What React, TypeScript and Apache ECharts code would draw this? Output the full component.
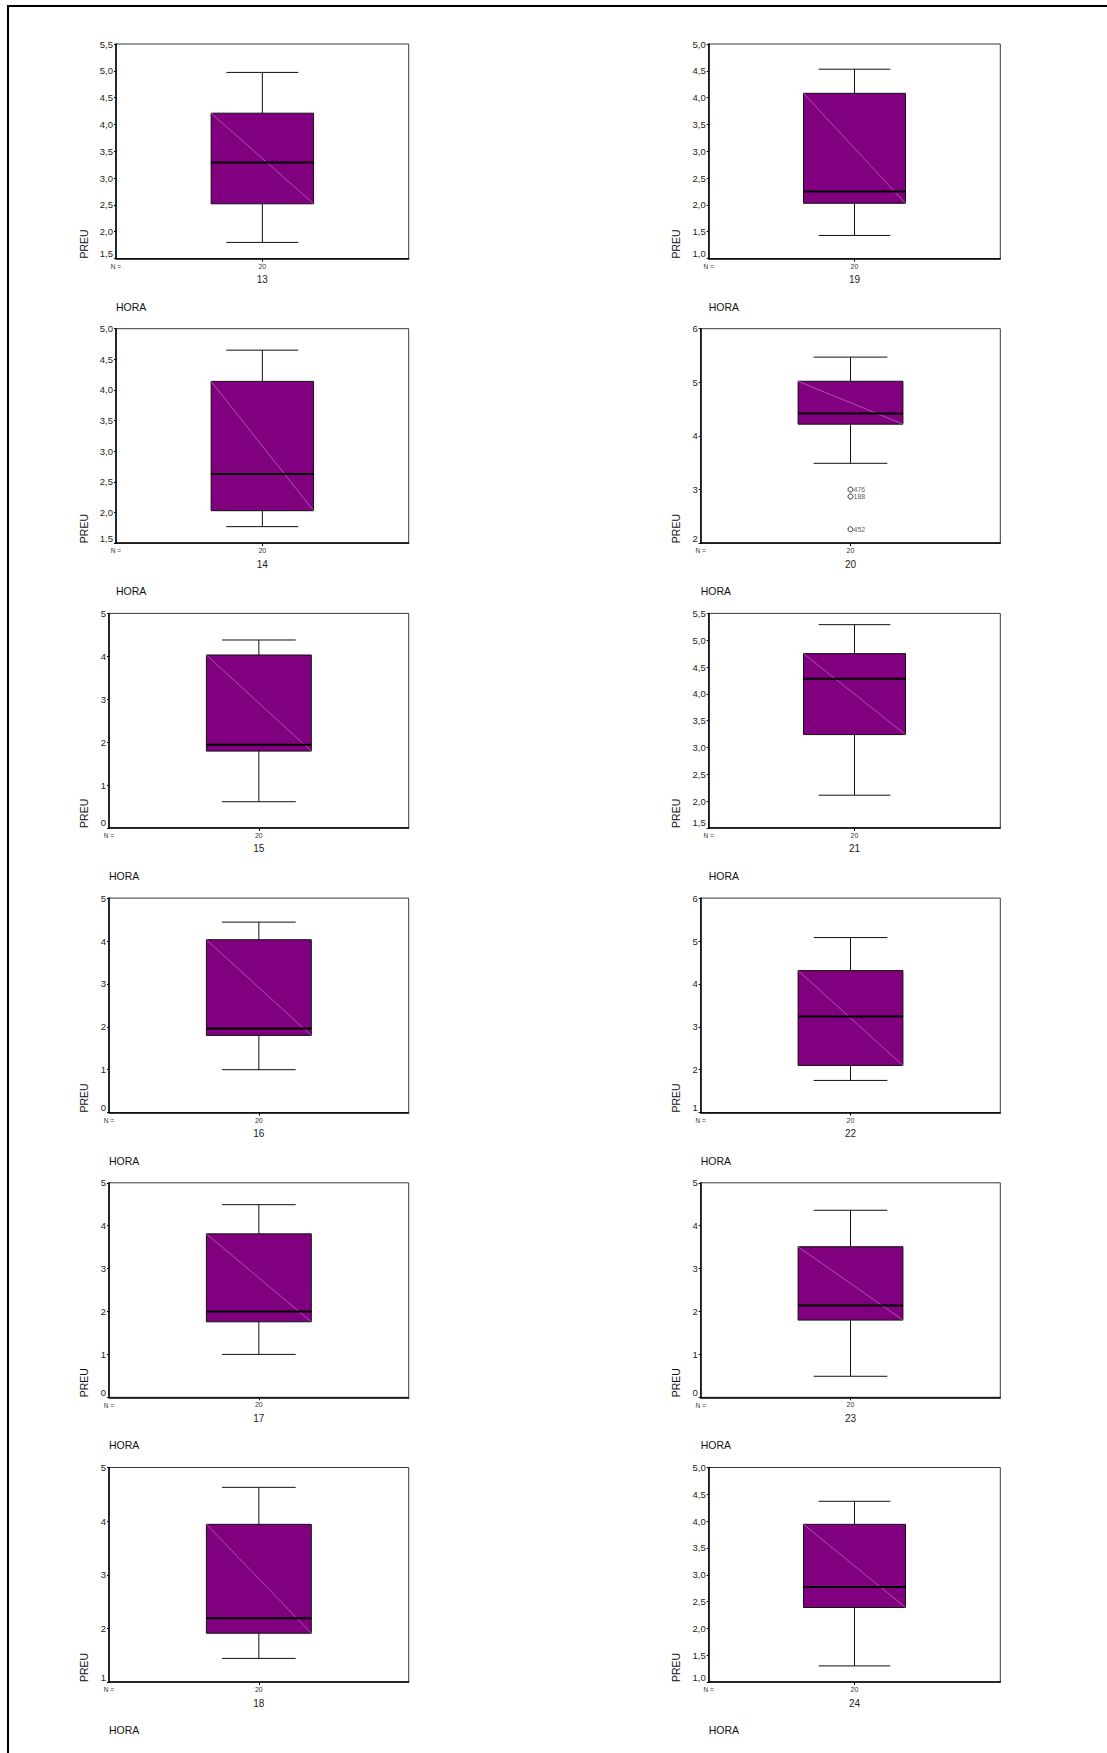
import React, { useEffect, useRef } from "react";
import * as echarts from "echarts";

// ---- data ----
const hours = ["13", "14", "15", "16", "17", "18", "19", "20", "21", "22", "23", "24"];
const nCounts = [20, 20, 20, 20, 20, 20, 20, 20, 20, 20, 20, 20];
const whiskerLow = [1.8, 1.77, 0.61, 1.0, 1.0, 1.44, 1.43, 3.49, 2.11, 1.75, 0.49, 1.3];
const quart1 = [2.52, 2.03, 1.79, 1.8, 1.76, 1.91, 2.03, 4.22, 3.24, 2.1, 1.8, 2.39];
const medians = [3.29, 2.63, 1.94, 1.96, 2.0, 2.19, 2.25, 4.42, 4.28, 3.24, 2.14, 2.77];
const quart3 = [4.21, 4.14, 4.03, 4.03, 3.81, 3.94, 4.08, 5.02, 4.75, 4.31, 3.51, 3.94];
const whiskerHigh = [4.97, 4.65, 4.38, 4.44, 4.49, 4.63, 4.53, 5.47, 5.29, 5.08, 4.36, 4.37];
const yMin = [1.5, 1.5, 0, 0, 0, 1, 1.0, 2, 1.5, 1, 0, 1.0];
const yMax = [5.5, 5.0, 5, 5, 5, 5, 5.0, 6, 5.5, 6, 5, 5.0];
const yStep = [0.5, 0.5, 1, 1, 1, 1, 0.5, 1, 0.5, 1, 1, 0.5];
const outlierHour = "20";
const outlierValues = [3.0, 2.87, 2.26];
const outlierIds = ["476", "188", "452"];
const yName = "PREU";
const xName = "HORA";

const FONT = "'Liberation Sans', Arial, Helvetica, sans-serif";

function buildOption() {
  const grids: any[] = [];
  const xAxes: any[] = [];
  const yAxes: any[] = [];
  const series: any[] = [];
  const graphic: any[] = [];

  // outer frame (only top and left edges visible)
  graphic.push({
    type: "line",
    shape: { x1: 7, y1: 6, x2: 1120, y2: 6 },
    style: { stroke: "#000", lineWidth: 2 },
  });
  graphic.push({
    type: "line",
    shape: { x1: 8, y1: 5, x2: 8, y2: 1770 },
    style: { stroke: "#000", lineWidth: 2 },
  });

  hours.forEach((h, i) => {
    const col = i < 6 ? 0 : 1;
    const row = i % 6;
    const dec = yStep[i] < 1;
    const right = col === 0 ? 408.7 : 1000.3;
    const left = col === 0 ? (dec ? 116 : 109) : dec ? 708.7 : 700.7;
    const top = 44 + row * 284.7;
    const height = 214.5;
    const bottom = top + height;

    grids.push({
      left,
      top,
      width: right - left,
      height,
      show: true,
      borderColor: "#3a3a3a",
      borderWidth: 1,
      backgroundColor: "transparent",
    });

    xAxes.push({
      type: "category",
      gridIndex: i,
      data: [h],
      boundaryGap: true,
      axisLine: { show: true, lineStyle: { color: "#000", width: 1.5 } },
      axisTick: { show: true, alignWithLabel: true, length: 3, lineStyle: { color: "#000" } },
      axisLabel: {
        margin: 2,
        formatter: (v: string) => `{n|${nCounts[i]}}\n{c|${v}}`,
        rich: {
          n: { fontSize: 7, lineHeight: 11, color: "#333", fontFamily: FONT },
          c: { fontSize: 10, lineHeight: 16, color: "#222", fontFamily: FONT },
        },
      },
      splitLine: { show: false },
    });

    yAxes.push({
      type: "value",
      gridIndex: i,
      min: yMin[i],
      max: yMax[i],
      interval: yStep[i],
      axisLine: { show: true, lineStyle: { color: "#000", width: 1.5 } },
      axisTick: { show: true, length: 2, lineStyle: { color: "#000" } },
      axisLabel: {
        margin: 3,
        fontSize: 9.5,
        color: "#222",
        fontFamily: FONT,
        verticalAlignMinLabel: "bottom",
        formatter: (v: number) => (dec ? v.toFixed(1).replace(".", ",") : String(Math.round(v))),
      },
      splitLine: { show: false },
    });

    series.push({
      type: "custom",
      xAxisIndex: i,
      yAxisIndex: i,
      encode: { x: 0, y: [1, 2, 3, 4, 5] },
      data: [[0, whiskerLow[i], quart1[i], medians[i], quart3[i], whiskerHigh[i]]],
      renderItem: (params: any, api: any) => {
        const x = api.value(0);
        const lo = api.coord([x, api.value(1)]);
        const q1 = api.coord([x, api.value(2)]);
        const md = api.coord([x, api.value(3)]);
        const q3 = api.coord([x, api.value(4)]);
        const hi = api.coord([x, api.value(5)]);
        const band = api.size([1, 0])[0];
        const bw = band * 0.35;
        const cw = band * 0.246;
        const cx = lo[0];
        const ws = { stroke: "#111", lineWidth: 1 };
        return {
          type: "group",
          children: [
            { type: "line", shape: { x1: cx, y1: hi[1], x2: cx, y2: q3[1] }, style: ws },
            { type: "line", shape: { x1: cx, y1: q1[1], x2: cx, y2: lo[1] }, style: ws },
            { type: "line", shape: { x1: cx - cw / 2, y1: hi[1], x2: cx + cw / 2, y2: hi[1] }, style: ws },
            { type: "line", shape: { x1: cx - cw / 2, y1: lo[1], x2: cx + cw / 2, y2: lo[1] }, style: ws },
            {
              type: "rect",
              shape: { x: cx - bw / 2, y: q3[1], width: bw, height: q1[1] - q3[1] },
              style: { fill: "#800080", stroke: "#111", lineWidth: 1 },
            },
            {
              type: "line",
              shape: { x1: cx - bw / 2, y1: q3[1], x2: cx + bw / 2, y2: q1[1] },
              style: { stroke: "#c98bc9", lineWidth: 0.6 },
            },
            {
              type: "line",
              shape: { x1: cx - bw / 2, y1: md[1], x2: cx + bw / 2, y2: md[1] },
              style: { stroke: "#000", lineWidth: 2 },
            },
          ],
        };
      },
    });

    graphic.push({
      type: "text",
      x: col === 0 ? 84 : 676,
      y: bottom,
      rotation: Math.PI / 2,
      style: {
        text: yName,
        fontSize: 10.5,
        fontFamily: FONT,
        fill: "#111",
        textAlign: "left",
        textVerticalAlign: "middle",
      },
    });
    graphic.push({
      type: "text",
      x: left,
      y: bottom + 48,
      style: {
        text: xName,
        fontSize: 10.5,
        fontFamily: FONT,
        fill: "#111",
        textAlign: "left",
        textVerticalAlign: "middle",
      },
    });
    graphic.push({
      type: "text",
      x: left,
      y: bottom + 7.7,
      style: {
        text: "N =",
        fontSize: 6.5,
        fontFamily: FONT,
        fill: "#333",
        textAlign: "center",
        textVerticalAlign: "middle",
      },
    });
  });

  const oi = hours.indexOf(outlierHour);
  series.push({
    type: "scatter",
    xAxisIndex: oi,
    yAxisIndex: oi,
    symbol: "circle",
    symbolSize: 5,
    itemStyle: { color: "#fff", borderColor: "#000", borderWidth: 1 },
    label: {
      show: true,
      position: "right",
      distance: 0,
      formatter: "{b}",
      fontSize: 7,
      color: "#333",
      fontFamily: FONT,
    },
    data: outlierValues.map((v, k) => ({ name: outlierIds[k], value: [0, v] })),
  });

  return {
    animation: false,
    backgroundColor: "#fff",
    textStyle: { fontFamily: FONT },
    grid: grids,
    xAxis: xAxes,
    yAxis: yAxes,
    series,
    graphic,
  };
}

export default function App() {
  const ref = useRef<HTMLDivElement>(null);
  useEffect(() => {
    if (!ref.current) return;
    const chart = echarts.init(ref.current, null, { renderer: "svg", width: 1107, height: 1753 });
    chart.setOption(buildOption() as any);
    return () => chart.dispose();
  }, []);
  return (
    <div
      ref={ref}
      style={{ position: "absolute", left: 0, top: 0, width: 1107, height: 1753, background: "#fff" }}
    />
  );
}
